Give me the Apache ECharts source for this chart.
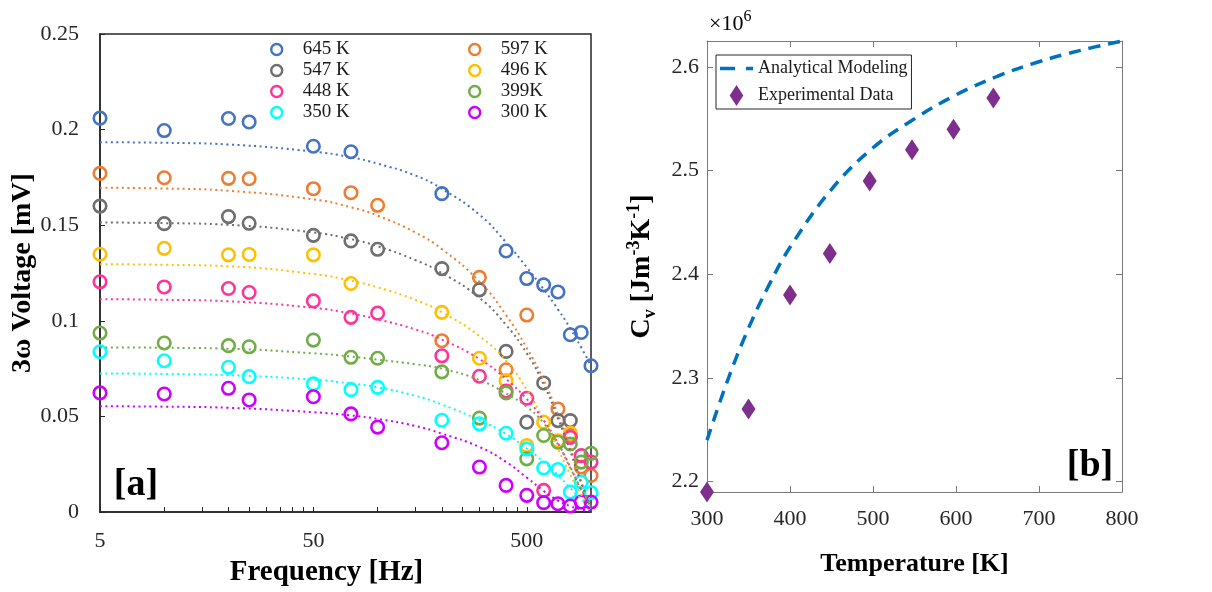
<!DOCTYPE html>
<html>
<head>
<meta charset="utf-8">
<script src="https://cdn.jsdelivr.net/npm/echarts@6/dist/echarts.min.js"></script>
<style>
  html, body { margin: 0; padding: 0; background: #ffffff; }
  #chart { width: 1212px; height: 592px; }
</style>
</head>
<body>
<div id="chart"></div>
<script>
const FONT = '"Liberation Serif", "Times New Roman", serif';

// ---- Panel (a): 3-omega voltage vs. heating frequency ----
const freqHz = [5, 10, 20, 25, 50, 75, 100, 200, 300, 400, 500, 600, 700, 800, 900, 1000];
const volt645 = [0.2060, 0.1995, 0.2058, 0.2040, 0.1913, 0.1884, null, 0.1665, null, 0.1365, 0.1221, 0.1188, 0.1151, 0.0927, 0.0939, 0.0765];
const volt597 = [0.1771, 0.1748, 0.1745, 0.1743, 0.1691, 0.1670, 0.1604, 0.0896, 0.1227, 0.0744, 0.1030, null, 0.0539, 0.0400, 0.0235, 0.0191];
const volt547 = [0.1600, 0.1508, 0.1545, 0.1510, 0.1447, 0.1418, 0.1374, 0.1273, 0.1162, 0.0840, 0.0470, 0.0675, 0.0478, 0.0478, null, null];
const volt496 = [0.1348, 0.1379, 0.1345, 0.1347, 0.1345, 0.1195, null, 0.1044, 0.0804, 0.0687, 0.0348, 0.0470, 0.0373, 0.0413, null, null];
const volt448 = [0.1204, 0.1177, 0.1169, 0.1148, 0.1104, 0.1018, 0.1040, 0.0817, 0.0710, 0.0633, 0.0595, 0.0113, null, 0.0390, 0.0295, 0.0261];
const volt399 = [0.0936, 0.0884, 0.0870, 0.0864, 0.0899, 0.0809, 0.0804, 0.0733, 0.0491, 0.0623, 0.0278, 0.0400, 0.0365, 0.0356, 0.0261, 0.0307];
const volt350 = [0.0838, 0.0791, 0.0757, 0.0708, 0.0670, 0.0640, 0.0652, 0.0480, 0.0461, 0.0412, 0.0330, 0.0230, 0.0222, 0.0104, 0.0157, 0.0101];
const volt300 = [0.0623, 0.0617, 0.0647, 0.0586, 0.0603, 0.0513, 0.0444, 0.0362, 0.0235, 0.0139, 0.0087, 0.0049, 0.0043, 0.0031, 0.0052, 0.0052];

// fitted model curves, sampled along frequency
const fitFreqHz = [5, 10, 20, 50, 75, 100, 150, 200, 300, 400, 500, 600, 700, 800, 900, 1000];
const fit645 = [0.1934, 0.1931, 0.1922, 0.1885, 0.1855, 0.1822, 0.1760, 0.1690, 0.1555, 0.1410, 0.1280, 0.1165, 0.1060, 0.0960, 0.0860, 0.0765];
const fit597 = [0.1696, 0.1692, 0.1680, 0.1635, 0.1594, 0.1550, 0.1462, 0.1375, 0.1205, 0.1030, 0.0858, 0.0690, 0.0510, 0.0335, 0.0160, 0.0030];
const fit547 = [0.1514, 0.1511, 0.1502, 0.1462, 0.1427, 0.1390, 0.1318, 0.1250, 0.1120, 0.0978, 0.0830, 0.0668, 0.0490, 0.0318, 0.0150, 0.0028];
const fit496 = [0.1296, 0.1293, 0.1285, 0.1245, 0.1210, 0.1175, 0.1110, 0.1045, 0.0920, 0.0790, 0.0640, 0.0480, 0.0330, 0.0195, 0.0090, 0.0025];
const fit448 = [0.1113, 0.1110, 0.1102, 0.1068, 0.1038, 0.1008, 0.0955, 0.0902, 0.0800, 0.0695, 0.0590, 0.0480, 0.0360, 0.0235, 0.0115, 0.0030];
const fit399 = [0.0861, 0.0859, 0.0854, 0.0830, 0.0813, 0.0797, 0.0773, 0.0750, 0.0690, 0.0620, 0.0550, 0.0465, 0.0355, 0.0230, 0.0120, 0.0038];
const fit350 = [0.0725, 0.0722, 0.0716, 0.0692, 0.0672, 0.0652, 0.0608, 0.0562, 0.0480, 0.0408, 0.0332, 0.0262, 0.0192, 0.0125, 0.0068, 0.0020];
const fit300 = [0.0553, 0.0551, 0.0545, 0.0522, 0.0505, 0.0487, 0.0450, 0.0410, 0.0340, 0.0262, 0.0180, 0.0110, 0.0060, 0.0030, 0.0013, 0.0006];

const tempNames = ['645 K', '597 K', '547 K', '496 K', '448 K', '399K', '350 K', '300 K'];
const legendColA = ['645 K', '547 K', '448 K', '350 K'];
const legendColB = ['597 K', '496 K', '399K', '300 K'];
const tempColors = ['#4472c4', '#ed7d31', '#6f6f6f', '#ffc000', '#ff3399', '#70ad47', '#00ffff', '#cc00ff'];
const freqLabelValues = [5, 50, 500];
const freqTickValues = [5, 10, 15, 20, 25, 30, 35, 40, 45, 50, 100, 150, 200, 250, 300, 350, 400, 450, 500];

// ---- Panel (b): volumetric heat capacity vs. temperature ----
const tempK = [300, 350, 400, 448, 496, 547, 597, 645];
const cvExperimental = [2.19e6, 2.27e6, 2.38e6, 2.42e6, 2.49e6, 2.52e6, 2.54e6, 2.57e6];
const modelTempK = [300, 325, 350, 375, 400, 450, 500, 550, 600, 650, 700, 750, 800];
const cvModel = [2.240e6, 2.298e6, 2.348e6, 2.390e6, 2.426e6, 2.482e6, 2.522e6, 2.550e6, 2.573e6, 2.591e6, 2.605e6, 2.616e6, 2.625e6];
const cvTickValues = [2.2e6, 2.3e6, 2.4e6, 2.5e6, 2.6e6];

const voltSets = [volt645, volt597, volt547, volt496, volt448, volt399, volt350, volt300];
const fitSets = [fit645, fit597, fit547, fit496, fit448, fit399, fit350, fit300];

const series = [];
tempNames.forEach((name, i) => {
  series.push({
    type: 'scatter',
    name: name,
    xAxisIndex: 0,
    yAxisIndex: 0,
    symbol: 'circle',
    symbolSize: 12.5,
    itemStyle: { color: 'rgba(255,255,255,0)', borderColor: tempColors[i], borderWidth: 2.6, opacity: 1 },
    data: freqHz.map((f, j) => [f, voltSets[i][j]]).filter(p => p[1] !== null),
    z: 3
  });
  series.push({
    type: 'line',
    name: name + ' fit',
    xAxisIndex: 0,
    yAxisIndex: 0,
    symbol: 'none',
    smooth: 0.5,
    lineStyle: { color: tempColors[i], width: 2, type: [2, 3.5] },
    data: fitFreqHz.map((f, j) => [f, fitSets[i][j]]),
    silent: true,
    z: 4
  });
});

const modelColor = '#0072bd';
const expColor = '#7e2f8e';
series.push({
  type: 'line',
  name: 'Analytical Modeling',
  xAxisIndex: 1,
  yAxisIndex: 1,
  symbol: 'none',
  smooth: 0.4,
  itemStyle: { color: modelColor },
  lineStyle: { color: modelColor, width: 3.5, type: [12, 8] },
  data: modelTempK.map((t, j) => [t, cvModel[j]]),
  z: 3
});
series.push({
  type: 'scatter',
  name: 'Experimental Data',
  xAxisIndex: 1,
  yAxisIndex: 1,
  symbol: 'diamond',
  symbolSize: [14, 21],
  itemStyle: { color: expColor, opacity: 1 },
  data: tempK.map((t, j) => [t, cvExperimental[j]]),
  z: 4
});

const labelStyle = { fontFamily: FONT, color: '#262626' };
const grayAxis = '#7a7a7a';
const circleLegendStyle = { borderWidth: 2.4, opacity: 1 };

const option = {
  animation: false,
  backgroundColor: '#ffffff',
  textStyle: { fontFamily: FONT },
  grid: [
    { left: 100, top: 34, width: 491, height: 479, show: true, borderColor: '#262626', borderWidth: 1.5, backgroundColor: 'transparent' },
    { left: 707, top: 41, width: 415, height: 451, show: false }
  ],
  legend: [
    {
      data: legendColA, orient: 'vertical', left: 270, top: 39, padding: 0,
      itemWidth: 30, itemHeight: 11, itemGap: 0, selectedMode: false,
      itemStyle: circleLegendStyle,
      textStyle: { fontFamily: FONT, fontSize: 19, color: '#1a1a1a', lineHeight: 21, padding: [0, 0, 0, 6] }
    },
    {
      data: legendColB, orient: 'vertical', left: 468, top: 39, padding: 0,
      itemWidth: 30, itemHeight: 11, itemGap: 0, selectedMode: false,
      itemStyle: circleLegendStyle,
      textStyle: { fontFamily: FONT, fontSize: 19, color: '#1a1a1a', lineHeight: 21, padding: [0, 0, 0, 6] }
    },
    {
      data: [
        { name: 'Analytical Modeling', icon: 'path://M0,0H15V3.5H0Z M26,0H33V3.5H26Z' },
        { name: 'Experimental Data', icon: 'path://M6.5,0L13,10L6.5,20L0,10Z' }
      ],
      orient: 'vertical', left: 716, top: 55, padding: [2, 4, 2, 4],
      itemWidth: 33, itemHeight: 21, itemGap: 4, selectedMode: false,
      borderColor: '#262626', borderWidth: 1, backgroundColor: '#ffffff',
      textStyle: { fontFamily: FONT, fontSize: 18, color: '#1a1a1a', lineHeight: 23 }
    }
  ],
  xAxis: [
    {
      type: 'log', logBase: 10, gridIndex: 0, min: 5, max: 1000,
      name: 'Frequency [Hz]', nameLocation: 'middle', nameGap: 46,
      nameTextStyle: { fontFamily: FONT, fontSize: 29, fontWeight: 'bold', color: '#000', padding: [0, 38, 0, 0] },
      axisLine: { show: true, lineStyle: { color: '#262626', width: 1.5 } },
      axisTick: { show: true, inside: true, length: 5, customValues: freqTickValues, lineStyle: { color: '#262626', width: 1 } },
      axisLabel: { show: true, customValues: freqLabelValues, fontSize: 22, margin: 18, ...labelStyle },
      minorTick: { show: false },
      splitLine: { show: false }
    },
    {
      type: 'value', gridIndex: 1, min: 300, max: 800, interval: 100,
      name: 'Temperature [K]', nameLocation: 'middle', nameGap: 59,
      nameTextStyle: { fontFamily: FONT, fontSize: 26, fontWeight: 'bold', color: '#000' },
      axisLine: { show: true, onZero: false, lineStyle: { color: grayAxis, width: 1 } },
      axisTick: { show: true, inside: true, length: 6, lineStyle: { color: grayAxis } },
      axisLabel: { fontSize: 22, margin: 16, ...labelStyle },
      splitLine: { show: false }
    },
    {
      type: 'value', gridIndex: 1, position: 'top', min: 300, max: 800, interval: 100,
      axisLine: { show: true, onZero: false, lineStyle: { color: grayAxis, width: 1 } },
      axisTick: { show: true, inside: true, length: 6, lineStyle: { color: grayAxis } },
      axisLabel: { show: false },
      splitLine: { show: false }
    }
  ],
  yAxis: [
    {
      type: 'value', gridIndex: 0, min: 0, max: 0.25, interval: 0.05,
      name: '3ω Voltage [mV]', nameLocation: 'middle', nameGap: 54,
      nameTextStyle: { fontFamily: FONT, fontSize: 28, fontWeight: 'bold', color: '#000' },
      axisLine: { show: true, lineStyle: { color: '#262626', width: 1.5 } },
      axisTick: { show: true, inside: true, length: 5, lineStyle: { color: '#262626', width: 1 } },
      axisLabel: { fontSize: 22, margin: 21, ...labelStyle },
      splitLine: { show: false }
    },
    {
      type: 'value', gridIndex: 1, min: 2.19e6, max: 2.625e6,
      name: '{b|C}{sub|v}{b| [Jm}{sup|-3}{b|K}{sup|-1}{b|]}',
      nameLocation: 'middle', nameGap: 48,
      nameTextStyle: {
        color: '#000',
        rich: {
          b: { fontFamily: FONT, fontSize: 28, fontWeight: 'bold', lineHeight: 34, color: '#000' },
          sup: { fontFamily: FONT, fontSize: 18, fontWeight: 'bold', lineHeight: 18, verticalAlign: 'top', color: '#000' },
          sub: { fontFamily: FONT, fontSize: 18, fontWeight: 'bold', lineHeight: 18, verticalAlign: 'bottom', color: '#000' }
        }
      },
      axisLine: { show: true, onZero: false, lineStyle: { color: grayAxis, width: 1 } },
      axisTick: { show: true, inside: true, length: 6, customValues: cvTickValues, lineStyle: { color: grayAxis } },
      axisLabel: { fontSize: 22, margin: 8, customValues: cvTickValues, formatter: v => (v / 1e6).toFixed(1), ...labelStyle },
      splitLine: { show: false }
    },
    {
      type: 'value', gridIndex: 1, position: 'right', min: 2.19e6, max: 2.625e6,
      axisLine: { show: true, onZero: false, lineStyle: { color: grayAxis, width: 1 } },
      axisTick: { show: true, inside: true, length: 6, customValues: cvTickValues, lineStyle: { color: grayAxis } },
      axisLabel: { show: false },
      splitLine: { show: false }
    }
  ],
  graphic: [
    {
      type: 'text', left: 709, top: 9, silent: true,
      style: {
        text: '{a|×10}{s|6}',
        rich: {
          a: { fontFamily: FONT, fontSize: 22, lineHeight: 30, color: '#262626' },
          s: { fontFamily: FONT, fontSize: 16, lineHeight: 16, verticalAlign: 'top', color: '#262626' }
        }
      }
    },
    {
      type: 'text', silent: true,
      style: { x: 136, y: 485, text: '[a]', fontFamily: FONT, fontSize: 38, fontWeight: 'bold', fill: '#000', align: 'center', verticalAlign: 'middle' }
    },
    {
      type: 'text', silent: true,
      style: { x: 1090, y: 466, text: '[b]', fontFamily: FONT, fontSize: 38, fontWeight: 'bold', fill: '#000', align: 'center', verticalAlign: 'middle' }
    }
  ],
  series: series
};

const chart = echarts.init(document.getElementById('chart'), null, { renderer: 'canvas' });
chart.setOption(option);
</script>
</body>
</html>
